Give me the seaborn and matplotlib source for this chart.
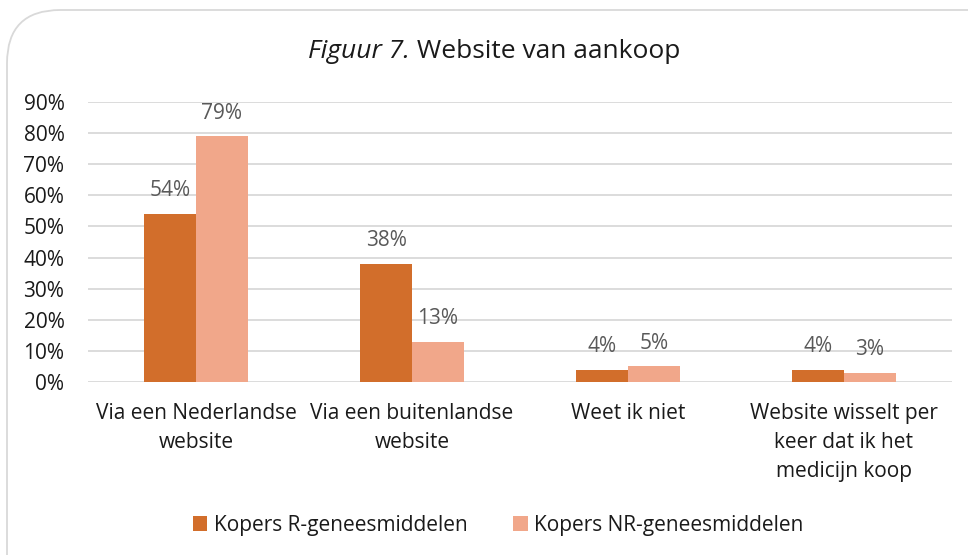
import numpy as np
import pandas as pd
import matplotlib
matplotlib.use("Agg")
import matplotlib.pyplot as plt
from matplotlib.patches import FancyBboxPatch
import seaborn as sns

# Dati del grafico
CATEGORIES = [
    "Via een Nederlandse\nwebsite",
    "Via een buitenlandse\nwebsite",
    "Weet ik niet",
    "Website wisselt per\nkeer dat ik het\nmedicijn koop",
]
SERIES = ["Kopers R-geneesmiddelen", "Kopers NR-geneesmiddelen"]
R_VALUES = [54, 38, 4, 4]
NR_VALUES = [79, 13, 5, 3]
Y_TICKS = [0, 10, 20, 30, 40, 50, 60, 70, 80, 90]

COLORS = ["#D26E2B", "#F1A78A"]
FS = 15

df = pd.DataFrame({
    "categoria": CATEGORIES * 2,
    "serie": [SERIES[0]] * len(CATEGORIES) + [SERIES[1]] * len(CATEGORIES),
    "valore": R_VALUES + NR_VALUES,
})

sns.set_style("white")
plt.rcParams["font.family"] = ["Open Sans", "DejaVu Sans"]

fig = plt.figure(figsize=(9.68, 5.55), dpi=100)
# area del grafico: x 88-952 px, y 102-382 px
ax = fig.add_axes([88 / 968, 1 - 382 / 555, 864 / 968, 280 / 555])

sns.barplot(
    data=df, x="categoria", y="valore", hue="serie",
    palette=COLORS, width=0.477, saturation=1, ax=ax,
    edgecolor="none", linewidth=0,
)

# Etichette valori sopra le barre
for cont in ax.containers:
    ax.bar_label(cont, labels=[f"{v:.0f}%" for v in cont.datavalues],
                 padding=9, fontsize=FS, color="#595959")

ax.set_ylim(0, 90)
ax.set_xlim(-0.5, len(CATEGORIES) - 0.5)
ax.set_yticks(Y_TICKS)
ax.set_yticklabels([f"{t}%" for t in Y_TICKS])
ax.yaxis.grid(True, color="#D9D9D9", linewidth=1.3)
ax.set_axisbelow(True)
for s in ax.spines.values():
    s.set_visible(False)
ax.tick_params(axis="y", length=0, pad=17, labelsize=FS, labelcolor="#1a1a1a")
ax.tick_params(axis="x", length=0, pad=15, labelsize=FS, labelcolor="#1a1a1a")
for lbl in ax.get_xticklabels():
    lbl.set_linespacing(1.5)
ax.set_xlabel("")
ax.set_ylabel("")

ax.legend(
    loc="center", bbox_to_anchor=(498 / 968, 1 - 525 / 555),
    bbox_transform=fig.transFigure,
    ncol=2, frameon=False, fontsize=FS, handlelength=0.7, handleheight=0.7,
    handletextpad=0.3, columnspacing=2.2, labelcolor="#1a1a1a",
)

# Titolo (parte in corsivo + parte normale)
split_x = 410 / 968
title_y = 1 - 52 / 555
fig.text(split_x, title_y, "Figuur 7.", ha="right", va="center", fontsize=19,
         style="italic", color="#1a1a1a")
fig.text(split_x, title_y, " Website van aankoop", ha="left", va="center",
         fontsize=19, color="#1a1a1a")

# Bordo arrotondato (esce dal bordo destro e inferiore)
border = FancyBboxPatch(
    (7 / 968, -0.1), 1.1, 1.1 - 10 / 555,
    boxstyle="round,pad=0,rounding_size=0.055",
    transform=fig.transFigure, facecolor="none", edgecolor="#D9D9D9",
    linewidth=1.3, mutation_aspect=968 / 555,
)
fig.patches.append(border)

fig.savefig("out.png", dpi=100)
